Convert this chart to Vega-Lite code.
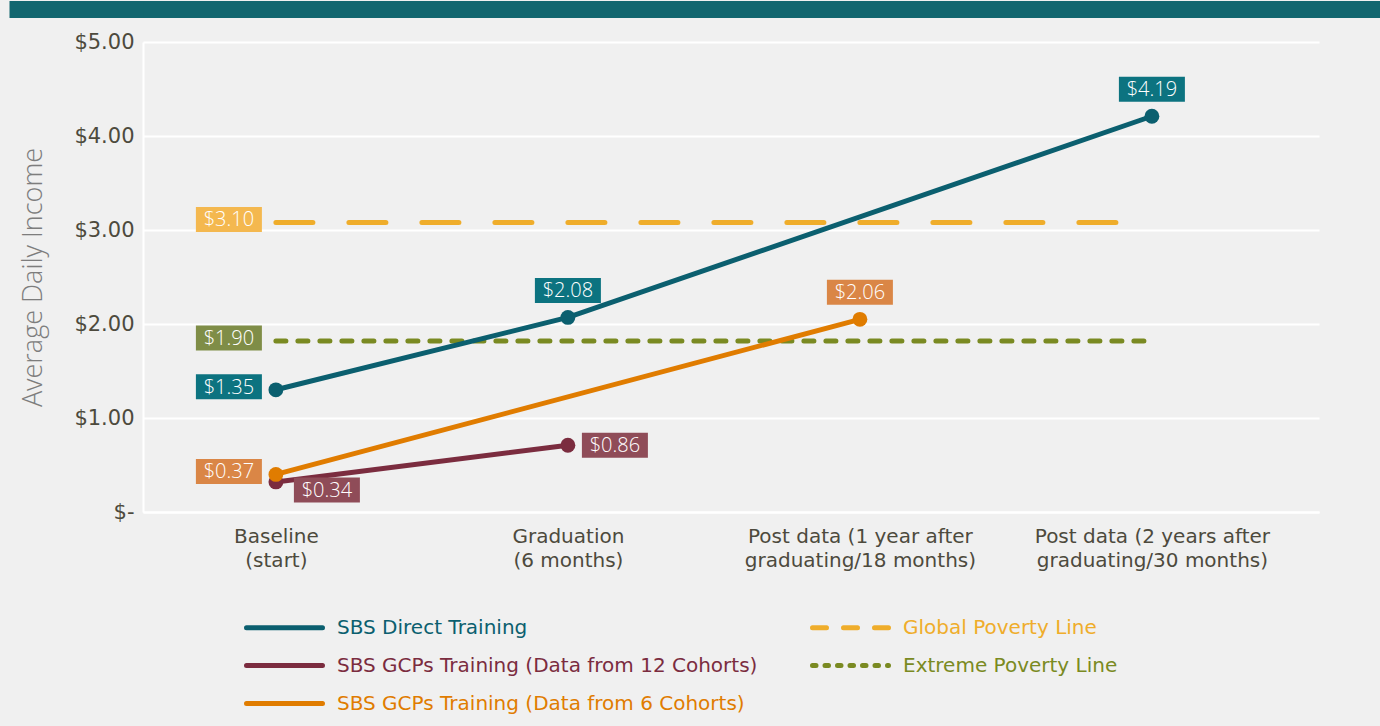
{
  "$schema": "https://vega.github.io/schema/vega-lite/v6.json",
  "background": "#f0f0f0",
  "padding": {"left": 0, "top": 0, "right": 0, "bottom": 14},
  "config": {"font": "Open Sans", "view": {"stroke": null}},
  "columns": 1,
  "spacing": 13,
  "datasets": {
    "incomes": [
      {"series": "Global Poverty Line", "stage": "Baseline (start)", "value": 3.08, "label": "$3.10"},
      {"series": "Global Poverty Line", "stage": "Post data (2 years after graduating/30 months)", "value": 3.08, "label": null},
      {"series": "Extreme Poverty Line", "stage": "Baseline (start)", "value": 1.82, "label": "$1.90"},
      {"series": "Extreme Poverty Line", "stage": "Post data (2 years after graduating/30 months)", "value": 1.82, "label": null},
      {"series": "SBS Direct Training", "stage": "Baseline (start)", "value": 1.30, "label": "$1.35"},
      {"series": "SBS Direct Training", "stage": "Graduation (6 months)", "value": 2.07, "label": "$2.08"},
      {"series": "SBS Direct Training", "stage": "Post data (2 years after graduating/30 months)", "value": 4.21, "label": "$4.19"},
      {"series": "SBS GCPs Training (Data from 12 Cohorts)", "stage": "Baseline (start)", "value": 0.32, "label": "$0.34"},
      {"series": "SBS GCPs Training (Data from 12 Cohorts)", "stage": "Graduation (6 months)", "value": 0.71, "label": "$0.86"},
      {"series": "SBS GCPs Training (Data from 6 Cohorts)", "stage": "Baseline (start)", "value": 0.40, "label": "$0.37"},
      {"series": "SBS GCPs Training (Data from 6 Cohorts)", "stage": "Post data (1 year after graduating/18 months)", "value": 2.05, "label": "$2.06"}
    ]
  },
  "concat": [
    {
      "width": 1237,
      "height": 17,
      "data": {"values": [{"band": "header"}]},
      "mark": {"type": "rect", "color": "#12666f"},
      "encoding": {
        "y": {
          "field": "band",
          "type": "nominal",
          "scale": {"paddingInner": 0, "paddingOuter": 0},
          "axis": {"title": null, "labels": false, "domain": false, "grid": false, "ticks": true, "tickSize": 134, "tickWidth": 17, "tickColor": "#12666f", "tickCap": "butt", "bandPosition": 0.5}
        }
      }
    },
    {
      "width": 1176,
      "height": 470,
      "data": {"name": "incomes"},
      "encoding": {
        "x": {
          "field": "stage",
          "type": "ordinal",
          "sort": ["Baseline (start)", "Graduation (6 months)", "Post data (1 year after graduating/18 months)", "Post data (2 years after graduating/30 months)"],
          "scale": {"type": "point", "padding": 0.5137, "align": 0.443},
          "axis": {
            "title": null,
            "labelAngle": 0,
            "labelFont": "DejaVu Sans",
            "labelFontSize": 20,
            "labelColor": "#4d4a3d",
            "labelPadding": 14,
            "labelLineHeight": 24.5,
            "labelLimit": 400,
            "ticks": false,
            "grid": false,
            "domainColor": "#ffffff",
            "domainWidth": 2,
            "labelExpr": "indexof(datum.label, ' after ') > 0 ? [slice(datum.label, 0, indexof(datum.label, ' after ') + 6), slice(datum.label, indexof(datum.label, ' after ') + 7)] : [slice(datum.label, 0, indexof(datum.label, ' (')), slice(datum.label, indexof(datum.label, ' (') + 1)]"
          }
        },
        "y": {
          "field": "value",
          "type": "quantitative",
          "scale": {"domain": [0, 5], "nice": false},
          "axis": {
            "title": "Average Daily Income",
            "titleFontSize": 27,
            "titleFontWeight": 300,
            "titleColor": "#7d7d7d",
            "titlePadding": 26,
            "values": [0, 1, 2, 3, 4, 5],
            "labelExpr": "datum.value == 0 ? '$-' : '$' + format(datum.value, '.2f')",
            "labelFont": "DejaVu Sans",
            "labelFontSize": 21,
            "labelColor": "#4d4a3d",
            "labelPadding": 9,
            "ticks": false,
            "domainColor": "#ffffff",
            "domainWidth": 2,
            "gridColor": "#ffffff",
            "gridWidth": 2
          }
        }
      },
      "layer": [
        {
          "transform": [{"filter": "datum.series === 'Global Poverty Line'"}],
          "mark": {"type": "line", "strokeWidth": 5, "strokeCap": "round", "strokeDash": [37, 36]},
          "encoding": {
            "color": {
              "field": "series", "type": "nominal",
              "scale": {
                "domain": ["SBS Direct Training", "SBS GCPs Training (Data from 12 Cohorts)", "SBS GCPs Training (Data from 6 Cohorts)", "Global Poverty Line", "Extreme Poverty Line"],
                "range": ["#0b5f6f", "#7b2c3f", "#e07c00", "#efad2b", "#7a8a22"]
              },
              "legend": {
                "title": null,
                "orient": "none",
                "legendX": 120,
                "legendY": 605,
                "columns": 2,
                "symbolType": "M-2,0H2",
                "symbolSize": 1444,
                "symbolStrokeWidth": 5,
                "labelFont": "DejaVu Sans",
                "labelFontSize": 20,
                "labelOffset": 31,
                "labelLimit": 700,
                "rowPadding": 6,
                "columnPadding": 44,
                "encode": {
                  "labels": {"update": {"fill": {"scale": "color", "field": "value"}}},
                  "symbols": {"update": {
                    "strokeCap": {"value": "round"},
                    "strokeDash": {"signal": "datum.value === 'Global Poverty Line' ? [14, 17] : datum.value === 'Extreme Poverty Line' ? [3.5, 9] : [1, 0]"}
                  }}
                }
              }
            }
          }
        },
        {
          "transform": [{"filter": "datum.series === 'Extreme Poverty Line'"}],
          "mark": {"type": "line", "strokeWidth": 5, "strokeCap": "round", "strokeDash": [10, 12]},
          "encoding": {
            "color": {"field": "series", "type": "nominal"}
          }
        },
        {
          "transform": [{"filter": "datum.series !== 'Global Poverty Line' && datum.series !== 'Extreme Poverty Line'"}],
          "mark": {"type": "line", "strokeWidth": 5, "strokeCap": "round", "point": {"filled": true, "size": 220, "opacity": 1}},
          "encoding": {
            "color": {"field": "series", "type": "nominal"}
          }
        },
        {
          "transform": [{"filter": "isValid(datum.label) && datum.stage === 'Baseline (start)' && datum.series !== 'SBS GCPs Training (Data from 12 Cohorts)'"}],
          "layer": [
            {
              "mark": {"type": "point", "shape": "M-1,-0.379H1V0.379H-1Z", "size": 4356, "filled": true, "opacity": 1, "strokeWidth": 0, "xOffset": -47, "yOffset": -3},
              "encoding": {"fill": {"field": "series", "type": "nominal", "legend": null, "scale": {"domain": ["SBS Direct Training", "SBS GCPs Training (Data from 12 Cohorts)", "SBS GCPs Training (Data from 6 Cohorts)", "Global Poverty Line", "Extreme Poverty Line"], "range": ["#0c7380", "#8f4c58", "#da8646", "#f4b84f", "#7f8d47"]}}}
            },
            {
              "mark": {"type": "text", "color": "#ffffff", "fontSize": 20, "fontWeight": 300, "align": "center", "baseline": "middle", "xOffset": -47, "yOffset": -2},
              "encoding": {"text": {"field": "label"}}
            }
          ]
        },
        {
          "transform": [{"filter": "isValid(datum.label) && datum.stage !== 'Baseline (start)' && (datum.series === 'SBS Direct Training' || datum.series === 'SBS GCPs Training (Data from 6 Cohorts)')"}],
          "layer": [
            {
              "mark": {"type": "point", "shape": "M-1,-0.379H1V0.379H-1Z", "size": 4356, "filled": true, "opacity": 1, "strokeWidth": 0, "yOffset": -27},
              "encoding": {"fill": {"field": "series", "type": "nominal", "legend": null}}
            },
            {
              "mark": {"type": "text", "color": "#ffffff", "fontSize": 20, "fontWeight": 300, "align": "center", "baseline": "middle", "yOffset": -26},
              "encoding": {"text": {"field": "label"}}
            }
          ]
        },
        {
          "transform": [{"filter": "isValid(datum.label) && datum.stage === 'Graduation (6 months)' && datum.series === 'SBS GCPs Training (Data from 12 Cohorts)'"}],
          "layer": [
            {
              "mark": {"type": "point", "shape": "M-1,-0.379H1V0.379H-1Z", "size": 4356, "filled": true, "opacity": 1, "strokeWidth": 0, "xOffset": 47},
              "encoding": {"fill": {"field": "series", "type": "nominal", "legend": null}}
            },
            {
              "mark": {"type": "text", "color": "#ffffff", "fontSize": 20, "fontWeight": 300, "align": "center", "baseline": "middle", "xOffset": 47, "yOffset": 1},
              "encoding": {"text": {"field": "label"}}
            }
          ]
        },
        {
          "transform": [{"filter": "isValid(datum.label) && datum.stage === 'Baseline (start)' && datum.series === 'SBS GCPs Training (Data from 12 Cohorts)'"}],
          "layer": [
            {
              "mark": {"type": "point", "shape": "M-1,-0.379H1V0.379H-1Z", "size": 4356, "filled": true, "opacity": 1, "strokeWidth": 0, "xOffset": 51, "yOffset": 8},
              "encoding": {"fill": {"field": "series", "type": "nominal", "legend": null}}
            },
            {
              "mark": {"type": "text", "color": "#ffffff", "fontSize": 20, "fontWeight": 300, "align": "center", "baseline": "middle", "xOffset": 51, "yOffset": 9},
              "encoding": {"text": {"field": "label"}}
            }
          ]
        }
      ]
    }
  ]
}
